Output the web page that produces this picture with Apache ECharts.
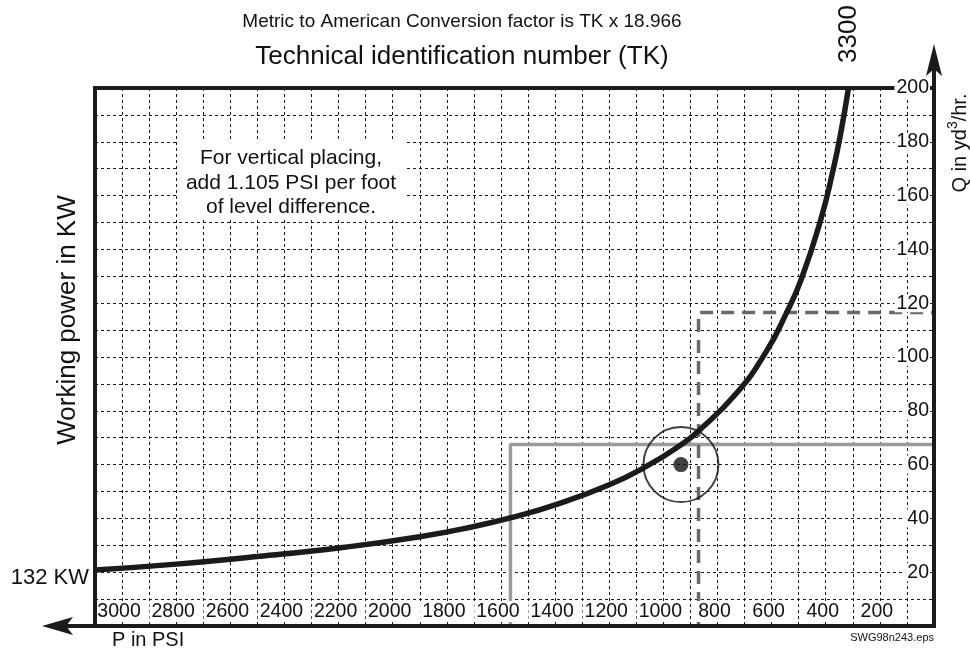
<!DOCTYPE html>
<html>
<head>
<meta charset="utf-8">
<script src="https://cdn.jsdelivr.net/npm/echarts@6/dist/echarts.min.js"></script>
<style>
  html, body { margin: 0; padding: 0; background: #fff; }
  #chart { width: 970px; height: 652px; }
</style>
</head>
<body>
<div id="chart"></div>
<script>
// Working curve: pressure (PSI) against flow Q (yd³/hr)
const psi  = [3100, 2800, 2500, 2200, 1900, 1700, 1550, 1400, 1200, 1060, 940, 870, 730, 620, 545, 490, 420, 375, 345, 316];
const flow = [20.8, 23.0, 25.8, 29.0, 33.2, 37.0, 40.6, 45.0, 52.5, 59.5, 67.0, 72.5, 86.5, 102, 116.4, 129, 150.5, 168.5, 183, 200];

// Reading guides
const guideSolidPsi = 1565, guideSolidQ = 67.5;
const guideDashPsi = 870, guideDashQ = 116.5;

// Operating point marker
const pointPsi = 935, pointQ = 60;

// Tick labels
const xTickLabels = [3000, 2800, 2600, 2400, 2200, 2000, 1800, 1600, 1400, 1200, 1000, 800, 600, 400, 200];
const yTickLabels = [20, 40, 60, 80, 100, 120, 140, 160, 180, 200];

const FONT = "'Liberation Sans', Arial, Helvetica, sans-serif";

const G = { left: 95, top: 88, right: 934, bottom: 626 };

const chart = echarts.init(document.getElementById('chart'), null, { renderer: 'canvas' });

const gridLine = { show: true, lineStyle: { color: '#1a1a1a', width: 1, type: [3, 3] } };

const xBase = { type: 'value', min: 0, max: 3100, interval: 100, inverse: true, position: 'bottom' };
const yBase = { type: 'value', min: 0, max: 200, interval: 10, position: 'right' };

const option = {
  animation: false,
  backgroundColor: '#fff',
  grid: { left: G.left, top: G.top, width: G.right - G.left, height: G.bottom - G.top },
  xAxis: [
    Object.assign({}, xBase, {
      z: 0, axisLine: { show: false }, axisTick: { show: false }, axisLabel: { show: false },
      splitLine: gridLine
    }),
    Object.assign({}, xBase, {
      z: 6, axisLine: { show: false }, axisTick: { show: false }, splitLine: { show: false },
      axisLabel: {
        show: true, inside: true, margin: 4,
        fontFamily: FONT, fontSize: 19.5, color: '#111', lineHeight: 21,
        backgroundColor: '#fff', padding: [0, 8, 0, 2],
        formatter: v => (xTickLabels.indexOf(v) >= 0 ? String(v) : '')
      }
    })
  ],
  yAxis: [
    Object.assign({}, yBase, {
      z: 0, axisLine: { show: false }, axisTick: { show: false }, axisLabel: { show: false },
      splitLine: gridLine
    }),
    Object.assign({}, yBase, {
      z: 6, axisLine: { show: false }, axisTick: { show: false }, splitLine: { show: false },
      axisLabel: {
        show: true, inside: true, margin: 4,
        fontFamily: FONT, fontSize: 19.5, color: '#111', lineHeight: 18,
        backgroundColor: '#fff', padding: [0, 1, 0, 2],
        formatter: v => (yTickLabels.indexOf(v) >= 0 ? String(v) : '')
      }
    })
  ],
  series: [
    {
      name: 'guide-solid', type: 'line', xAxisIndex: 0, yAxisIndex: 0, z: 3,
      symbol: 'none', silent: true,
      lineStyle: { color: '#9b9b9b', width: 3.5 },
      data: [[guideSolidPsi, 0], [guideSolidPsi, guideSolidQ], [0, guideSolidQ]]
    },
    {
      name: 'guide-dashed', type: 'line', xAxisIndex: 0, yAxisIndex: 0, z: 3,
      symbol: 'none', silent: true,
      lineStyle: { color: '#686868', width: 3.5, type: [13, 8] },
      data: [[guideDashPsi, 0], [guideDashPsi, guideDashQ], [0, guideDashQ]]
    },
    {
      name: 'curve', type: 'line', xAxisIndex: 0, yAxisIndex: 0, z: 4,
      symbol: 'none', smooth: 0.5, clip: true,
      lineStyle: { color: '#1c1a1b', width: 5.5, cap: 'butt' },
      data: psi.map((p, i) => [p, flow[i]])
    },
    {
      name: 'ring', type: 'scatter', xAxisIndex: 0, yAxisIndex: 0, z: 5,
      symbol: 'circle', symbolSize: 75,
      itemStyle: { color: 'rgba(0,0,0,0)', borderColor: '#111', borderWidth: 2 },
      data: [[pointPsi, pointQ]]
    },
    {
      name: 'point', type: 'scatter', xAxisIndex: 0, yAxisIndex: 0, z: 5,
      symbol: 'circle', symbolSize: 15,
      itemStyle: { color: '#111' },
      data: [[pointPsi, pointQ]]
    }
  ],
  graphic: [
    // frame: left and top edges
    { type: 'line', z: 50, shape: { x1: G.left, y1: G.top - 2, x2: G.left, y2: G.bottom }, style: { stroke: '#1c1a1b', lineWidth: 4 } },
    { type: 'line', z: 4, shape: { x1: G.left - 2, y1: G.top, x2: G.right, y2: G.top }, style: { stroke: '#1c1a1b', lineWidth: 4 } },
    // bottom axis with arrow to the left
    { type: 'line', z: 50, shape: { x1: G.right + 2, y1: G.bottom, x2: 60, y2: G.bottom }, style: { stroke: '#1c1a1b', lineWidth: 4 } },
    { type: 'polygon', z: 50, shape: { points: [[42, G.bottom], [73, G.bottom - 9], [66, G.bottom], [73, G.bottom + 9]] }, style: { fill: '#1c1a1b' } },
    // right axis with arrow upward
    { type: 'line', z: 50, shape: { x1: G.right, y1: G.bottom + 2, x2: G.right, y2: 62 }, style: { stroke: '#1c1a1b', lineWidth: 4 } },
    { type: 'polygon', z: 50, shape: { points: [[G.right, 44], [G.right - 8, 76], [G.right, 69], [G.right + 8, 76]] }, style: { fill: '#1c1a1b' } },

    // headings
    { type: 'text', z: 50, x: 462, y: 22, style: { text: 'Metric to American Conversion factor is TK x 18.966', font: '19px ' + FONT, fill: '#111', align: 'center', verticalAlign: 'middle' } },
    { type: 'text', z: 50, x: 462, y: 57, style: { text: 'Technical identification number (TK)', font: '26px ' + FONT, fill: '#111', align: 'center', verticalAlign: 'middle' } },
    { type: 'text', z: 50, x: 849, y: 34, rotation: Math.PI / 2, style: { text: '3300', font: '26px ' + FONT, fill: '#111', align: 'center', verticalAlign: 'middle' } },

    // axis names
    {
      type: 'text', z: 50, x: 958, y: 143, rotation: Math.PI / 2,
      style: {
        text: '{n|Q in yd}{s|3}{n|/hr.}', fill: '#111', align: 'center', verticalAlign: 'middle',
        rich: {
          n: { font: '20px ' + FONT, fill: '#111', verticalAlign: 'bottom', lineHeight: 24 },
          s: { font: '14px ' + FONT, fill: '#111', verticalAlign: 'top', lineHeight: 24 }
        }
      }
    },
    { type: 'text', z: 50, x: 68, y: 320, rotation: Math.PI / 2, style: { text: 'Working power in KW', font: '26px ' + FONT, fill: '#111', align: 'center', verticalAlign: 'middle' } },
    { type: 'text', z: 50, x: 89, y: 578, style: { text: '132 KW', font: '22px ' + FONT, fill: '#111', align: 'right', verticalAlign: 'middle' } },
    { type: 'text', z: 50, x: 112, y: 640, style: { text: 'P in PSI', font: '20px ' + FONT, fill: '#111', align: 'left', verticalAlign: 'middle' } },
    { type: 'text', z: 50, x: 934, y: 638, style: { text: 'SWG98n243.eps', font: '11px ' + FONT, fill: '#111', align: 'right', verticalAlign: 'middle' } },

    // note panel
    { type: 'rect', z: 40, shape: { x: 177, y: 142, width: 228, height: 78 }, style: { fill: '#fff' } },
    { type: 'text', z: 50, x: 291, y: 183, style: { text: 'For vertical placing,\nadd 1.105 PSI per foot\nof level difference.', font: '21px ' + FONT, lineHeight: 24.5, fill: '#111', align: 'center', verticalAlign: 'middle' } }
  ]
};

chart.setOption(option);
</script>
</body>
</html>
